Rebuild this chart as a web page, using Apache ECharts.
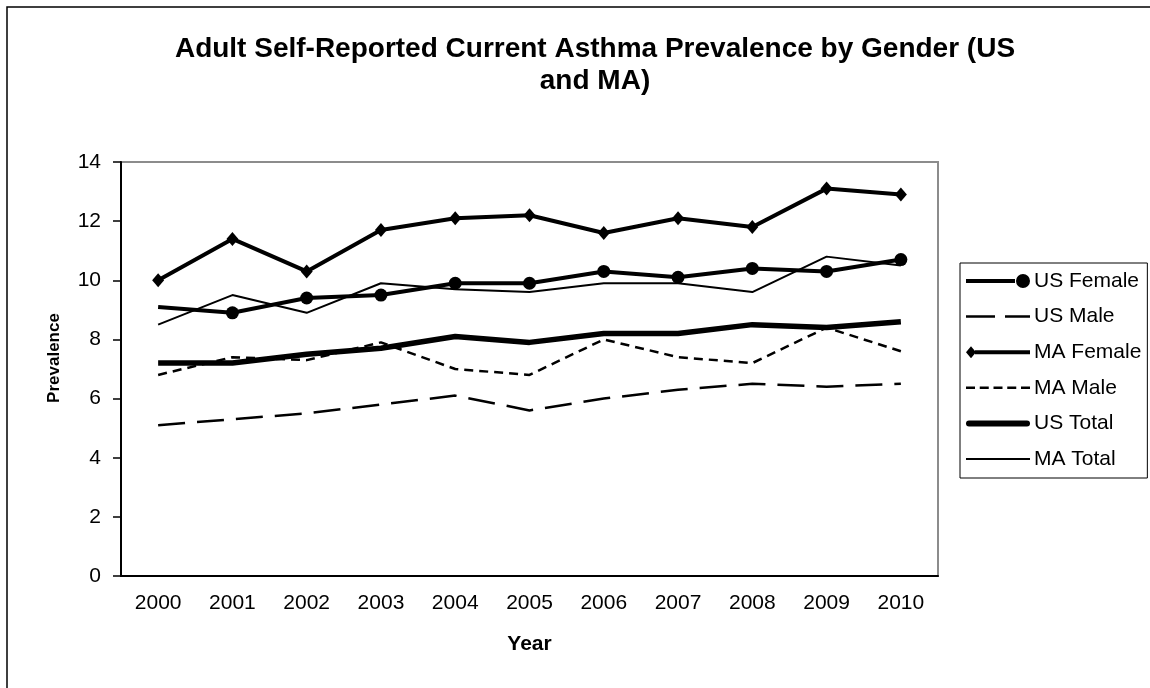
<!DOCTYPE html>
<html>
<head>
<meta charset="utf-8">
<title>Adult Self-Reported Current Asthma Prevalence by Gender</title>
<script src="https://cdn.jsdelivr.net/npm/echarts@6/dist/echarts.min.js"></script>
<style>
  html, body { margin: 0; padding: 0; background: #fff; }
  #chart { width: 1150px; height: 688px; }
</style>
</head>
<body>
<div id="chart"></div>
<script>
// Survey years on the category axis
const years = ['2000', '2001', '2002', '2003', '2004', '2005', '2006', '2007', '2008', '2009', '2010'];

// Current asthma prevalence (%) among adults
const usFemale = [9.1, 8.9, 9.4, 9.5, 9.9, 9.9, 10.3, 10.1, 10.4, 10.3, 10.7];
const usMale   = [5.1, 5.3, 5.5, 5.8, 6.1, 5.6, 6.0, 6.3, 6.5, 6.4, 6.5];
const maFemale = [10.0, 11.4, 10.3, 11.7, 12.1, 12.2, 11.6, 12.1, 11.8, 13.1, 12.9];
const maMale   = [6.8, 7.4, 7.3, 7.9, 7.0, 6.8, 8.0, 7.4, 7.2, 8.4, 7.6];
const usTotal  = [7.2, 7.2, 7.5, 7.7, 8.1, 7.9, 8.2, 8.2, 8.5, 8.4, 8.6];
const maTotal  = [8.5, 9.5, 8.9, 9.9, 9.7, 9.6, 9.9, 9.9, 9.6, 10.8, 10.5];

const FONT = '"Liberation Sans", Arial, sans-serif';
const INK = '#000';

// Legend keys drawn as paths in a 64-unit wide box (line, dashes, end markers)
const KEY_US_FEMALE = 'path://M0,5 L49,5 L49,9 L0,9 Z M50,7 A7,7 0 1,1 64,7 A7,7 0 1,1 50,7 Z';
const KEY_US_MALE = 'path://M0,0 L29,0 L29,2.5 L0,2.5 Z M39,0 L64,0 L64,2.5 L39,2.5 Z';
const KEY_MA_FEMALE = 'path://M0,6 L5,0 L10,6 L5,12 Z M9,4 L64,4 L64,8 L9,8 Z';
const KEY_MA_MALE = 'path://M0,0 L9,0 L9,2.5 L0,2.5 Z M13.75,0 L22.75,0 L22.75,2.5 L13.75,2.5 Z ' +
  'M27.5,0 L36.5,0 L36.5,2.5 L27.5,2.5 Z M41.25,0 L50.25,0 L50.25,2.5 L41.25,2.5 Z M55,0 L64,0 L64,2.5 L55,2.5 Z';
const KEY_US_TOTAL = 'path://M3,0 L61,0 A3,3 0 0,1 61,6 L3,6 A3,3 0 0,1 3,0 Z';
const KEY_MA_TOTAL = 'path://M0,0 L64,0 L64,2 L0,2 Z';

const chart = echarts.init(document.getElementById('chart'), null, { renderer: 'canvas' });

chart.setOption({
  backgroundColor: '#fff',
  animation: false,
  title: {
    text: 'Adult Self-Reported Current Asthma Prevalence by Gender (US\nand MA)',
    left: 590,
    top: 28,
    textAlign: 'center',
    textStyle: { fontFamily: FONT, fontWeight: 'bold', fontSize: 28, lineHeight: 32, color: INK }
  },
  graphic: [{
    // outer chart frame
    type: 'rect',
    silent: true,
    shape: { x: 7, y: 7, width: 1200, height: 740 },
    style: { fill: 'none', stroke: '#000', lineWidth: 1.5 }
  }],
  legend: {
    orient: 'vertical',
    left: 960,
    top: 263,
    padding: [7, 6, 8, 6],
    itemWidth: 64,
    itemHeight: 14,
    itemGap: 13.6,
    symbolKeepAspect: true,
    borderColor: '#000',
    borderWidth: 1,
    itemStyle: { borderWidth: 0 },
    textStyle: { fontFamily: FONT, fontSize: 21, lineHeight: 22, color: INK, padding: [0, 0, 0, -1] },
    data: [
      { name: 'US Female', icon: KEY_US_FEMALE },
      { name: 'US Male', icon: KEY_US_MALE },
      { name: 'MA Female', icon: KEY_MA_FEMALE },
      { name: 'MA Male', icon: KEY_MA_MALE },
      { name: 'US Total', icon: KEY_US_TOTAL },
      { name: 'MA Total', icon: KEY_MA_TOTAL }
    ]
  },
  grid: {
    left: 121,
    right: 212,
    top: 162,
    bottom: 112,
    show: true,
    borderColor: '#8c8c8c',
    borderWidth: 2,
    backgroundColor: 'transparent'
  },
  xAxis: {
    type: 'category',
    data: years,
    boundaryGap: true,
    name: 'Year',
    nameLocation: 'middle',
    nameGap: 58,
    nameTextStyle: { fontFamily: FONT, fontWeight: 'bold', fontSize: 21, color: INK },
    axisLine: { lineStyle: { color: INK, width: 2 } },
    axisTick: { inside: true, length: 8, lineStyle: { color: INK, width: 1.5 } },
    axisLabel: { margin: 17, fontFamily: FONT, fontSize: 21, color: INK },
    splitLine: { show: false }
  },
  yAxis: {
    type: 'value',
    min: 0,
    max: 14,
    interval: 2,
    name: 'Prevalence',
    nameLocation: 'middle',
    nameGap: 58,
    nameRotate: 90,
    nameTextStyle: { fontFamily: FONT, fontWeight: 'bold', fontSize: 17, color: INK, padding: [0, 0, 0, 22] },
    axisLine: { show: true, lineStyle: { color: INK, width: 2 } },
    axisTick: { show: true, inside: false, length: 8, lineStyle: { color: INK, width: 1.5 } },
    axisLabel: { margin: 20, fontFamily: FONT, fontSize: 21, color: INK },
    splitLine: { show: false }
  },
  series: [
    {
      name: 'US Female',
      type: 'line',
      data: usFemale.map((v, i) => (i === 0 ? { value: v, symbol: 'none' } : v)),
      symbol: 'circle',
      symbolSize: 13,
      itemStyle: { color: INK },
      lineStyle: { color: INK, width: 4 },
      z: 5
    },
    {
      name: 'US Male',
      type: 'line',
      data: usMale,
      symbol: 'none',
      itemStyle: { color: INK },
      lineStyle: { color: INK, width: 2.5, type: [27, 12] },
      z: 3
    },
    {
      name: 'MA Female',
      type: 'line',
      data: maFemale,
      symbol: 'diamond',
      symbolSize: [12, 14],
      itemStyle: { color: INK },
      lineStyle: { color: INK, width: 4 },
      z: 5
    },
    {
      name: 'MA Male',
      type: 'line',
      data: maMale,
      symbol: 'none',
      itemStyle: { color: INK },
      lineStyle: { color: INK, width: 2.5, type: [9, 6] },
      z: 3
    },
    {
      name: 'US Total',
      type: 'line',
      data: usTotal,
      symbol: 'none',
      itemStyle: { color: INK },
      lineStyle: { color: INK, width: 5.5 },
      z: 4
    },
    {
      name: 'MA Total',
      type: 'line',
      data: maTotal,
      symbol: 'none',
      itemStyle: { color: INK },
      lineStyle: { color: INK, width: 2 },
      z: 4
    }
  ]
});
</script>
</body>
</html>
